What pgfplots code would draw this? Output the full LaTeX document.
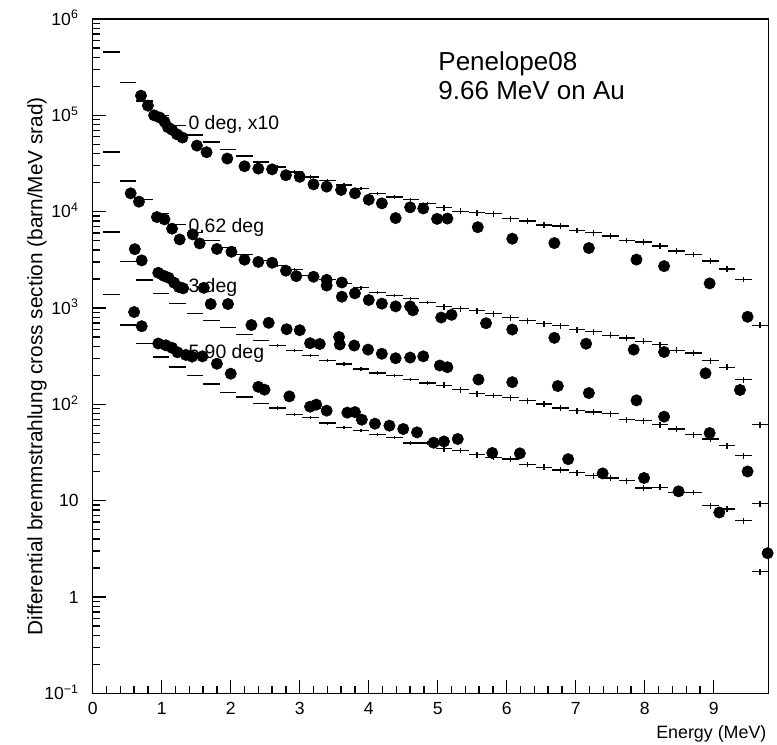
\documentclass[border=0pt]{standalone}
\usepackage{fontspec}
\setmainfont{Liberation Sans}
\usepackage{pgfplots}
\pgfplotsset{compat=1.18}
\usepackage{pgfplotstable}

% Penelope08 histograms (bin centre, value, relative error)
\pgfplotstableread{
x y e
0.27 456000 0
0.51 219000 0
0.75 141000 0
0.99 100000 0
1.23 78900 0
1.48 62500 0
1.72 52800 0
1.96 44400 0
2.20 37800 0
2.44 32800 0
2.68 29100 0.04
2.92 25800 0.04
3.16 22900 0.04
3.40 21100 0.04
3.64 18900 0.04
3.89 17300 0.04
4.13 15400 0.04
4.37 14200 0.04
4.61 13400 0.04
4.85 12100 0.04
5.09 11000 0.07
5.33 10100 0.07
5.57 9770 0.07
5.81 9530 0.07
6.05 8460 0.07
6.30 7980 0.07
6.54 7290 0.07
6.78 7080 0.07
7.02 6390 0.07
7.26 6050 0.07
7.50 5580 0.07
7.74 5030 0.07
7.98 4830 0.07
8.22 4390 0.07
8.46 3900 0.07
8.71 3600 0.07
8.95 3070 0.07
9.19 2550 0.07
9.43 1980 0.07
9.67 662 0.07
}\histA
\pgfplotstableread{
x y e
0.27 41700 0
0.51 20800 0
0.75 13400 0
0.99 9600 0
1.23 7380 0
1.48 6090 0
1.72 5030 0
1.96 4250 0
2.20 3620 0
2.44 3120 0
2.68 2770 0.04
2.92 2510 0.04
3.16 2180 0.04
3.40 1980 0.04
3.64 1790 0.04
3.89 1620 0.04
4.13 1460 0.04
4.37 1350 0.04
4.61 1260 0.04
4.85 1150 0.04
5.09 1030 0.07
5.33 982 0.07
5.57 942 0.07
5.81 871 0.07
6.05 791 0.07
6.30 741 0.07
6.54 690 0.07
6.78 658 0.07
7.02 598 0.07
7.26 566 0.07
7.50 521 0.07
7.74 490 0.07
7.98 452 0.07
8.22 418 0.07
8.46 364 0.07
8.71 342 0.07
8.95 285 0.07
9.19 243 0.07
9.43 181 0.07
9.67 61.5 0.07
}\histB
\pgfplotstableread{
x y e
0.27 6140 0
0.51 3020 0
0.75 1950 0
0.99 1420 0
1.23 1110 0
1.48 877 0
1.72 747 0
1.96 623 0
2.20 531 0
2.44 463 0
2.68 408 0.04
2.92 364 0.04
3.16 321 0.04
3.40 287 0.04
3.64 263 0.04
3.89 233 0.04
4.13 212 0.04
4.37 199 0.04
4.61 181 0.04
4.85 167 0.04
5.09 158 0.07
5.33 142 0.07
5.57 129 0.07
5.81 124 0.07
6.05 117 0.07
6.30 109 0.07
6.54 101 0.07
6.78 91.8 0.07
7.02 86 0.07
7.26 83.4 0.07
7.50 80 0.07
7.74 69.3 0.07
7.98 67.7 0.07
8.22 61.5 0.07
8.46 55.5 0.07
8.71 48.4 0.07
8.95 43.7 0.07
9.19 37.2 0.07
9.43 29.3 0.07
9.67 9.29 0.07
}\histC
\pgfplotstableread{
x y e
0.27 1390 0
0.51 666 0
0.75 431 0
0.99 310 0
1.23 244 0
1.48 200 0
1.72 163 0
1.96 133 0
2.20 119 0
2.44 102 0
2.68 91.8 0.04
2.92 78.2 0.04
3.16 72.7 0.04
3.40 63.8 0.04
3.64 57.3 0.04
3.89 53.5 0.04
4.13 48.4 0.04
4.37 45.4 0.04
4.61 39.7 0.04
4.85 39.7 0.04
5.09 34.8 0.07
5.33 33.3 0.07
5.57 30 0.07
5.81 28.3 0.07
6.05 27.1 0.07
6.30 23.8 0.07
6.54 22.2 0.07
6.78 20.9 0.07
7.02 19.5 0.07
7.26 18.2 0.07
7.50 17.2 0.07
7.74 16.1 0.07
7.98 13.5 0.07
8.22 13.8 0.07
8.46 12.2 0.07
8.71 12.2 0.07
8.95 8.91 0.07
9.19 8.18 0.07
9.43 6.22 0.07
9.67 1.84 0.07
}\histD

% Measured points
\pgfplotstableread{
x y
0.70 160000
0.80 126000
0.89 100000
0.97 94900
1.04 85900
1.09 75200
1.15 70800
1.22 63600
1.30 58800
1.51 48500
1.65 41400
1.95 35600
2.20 29600
2.40 28000
2.60 27500
2.80 23900
3.00 23000
3.20 19200
3.39 18200
3.60 16800
3.80 15500
4.00 13300
4.19 12200
4.39 8580
4.60 11100
4.79 10800
4.99 8420
5.14 8480
5.58 6900
6.08 5240
6.69 4720
7.19 4190
7.88 3180
8.28 2720
8.94 1800
9.49 811
}\dataA
\pgfplotstableread{
x y
0.55 15500
0.67 12700
0.93 8790
1.04 8320
1.15 6660
1.26 5150
1.45 5810
1.55 4680
1.80 4100
2.01 3840
2.20 3170
2.40 3010
2.60 2950
2.80 2440
2.95 2140
3.20 2110
3.39 1960
3.39 1710
3.61 1840
3.61 1310
3.80 1420
4.00 1210
4.19 1110
4.39 1040
4.60 1040
4.64 946
5.05 797
5.20 850
5.70 695
6.08 598
6.69 490
7.15 426
7.84 370
8.28 349
8.88 210
9.38 141
}\dataB
\pgfplotstableread{
x y
0.61 4080
0.71 3120
0.95 2320
1.03 2160
1.10 2060
1.18 1830
1.25 1650
1.31 1600
1.61 1620
1.71 1100
1.96 1100
2.30 666
2.55 702
2.81 602
3.00 588
3.15 431
3.29 423
3.57 500
3.58 418
3.79 408
3.99 370
4.19 335
4.39 301
4.60 306
4.79 315
5.03 253
5.14 243
5.59 181
6.08 170
6.74 155
7.19 131
7.88 110
8.28 74.5
8.94 50.4
9.49 20.1
}\dataC
\pgfplotstableread{
x y
0.60 908
0.71 647
0.95 428
1.06 410
1.15 386
1.23 347
1.35 326
1.44 313
1.59 315
1.80 264
2.00 208
2.40 152
2.49 142
2.85 121
3.15 94.6
3.24 99.3
3.39 86
3.69 82
3.80 83
3.90 69.3
4.09 63
4.30 60.1
4.50 55.5
4.70 51.2
4.94 40
5.09 41.2
5.29 43.7
5.79 31.3
6.19 31
6.89 27
7.39 19.2
7.99 17.2
8.49 12.5
9.08 7.54
9.78 2.85
}\dataD

\pgfplotsset{
  histo/.style={draw=none, mark=none,
    error bars/.cd, x dir=both, x fixed=0.1205, y dir=both, y explicit relative,
    error mark=none, error bar style={draw=black, line width=0.33mm, line cap=butt}},
  dots/.style={only marks, mark=*, mark size=1.42mm, black, mark options={fill=black, draw=black}},
}

\begin{document}
\begin{tikzpicture}
\begin{axis}[
  scale only axis, width=168.9mm, height=168.6mm,
  font=\fontsize{12.5}{14}\selectfont,
  xmin=0, xmax=9.79, ymode=log, ymin=0.1, ymax=1e6,
  clip=false,
  axis line style={line width=0.38mm, black},
  tick style={line width=0.33mm, black},
  tick align=inside, tick pos=left,
  major tick length=3.4mm, minor tick length=1.9mm,
  xtick={0,1,2,3,4,5,6,7,8,9},
  xticklabels={0,1,2,3,4,5,6,7,8,9},
  minor x tick num=4,
  ytick={0.1,1,10,100,1000,10000,100000,1000000},
  yticklabels={10\smash{\textsuperscript{−1}},1,10,10\smash{\textsuperscript{2}},10\smash{\textsuperscript{3}},10\smash{\textsuperscript{4}},10\smash{\textsuperscript{5}},10\smash{\textsuperscript{6}}},
  yticklabel style={anchor=east, xshift=-2.3mm},
  xticklabel style={anchor=north, yshift=-0.9mm},
  extra y ticks={0.2,0.3,0.4,0.5,0.6,0.7,0.8,0.9,
    2,3,4,5,6,7,8,9,
    20,30,40,50,60,70,80,90,
    200,300,400,500,600,700,800,900,
    2000,3000,4000,5000,6000,7000,8000,9000,
    20000,30000,40000,50000,60000,70000,80000,90000,
    200000,300000,400000,500000,600000,700000,800000,900000},
  extra y tick labels={},
  extra y tick style={major tick length=1.9mm, tick style={line width=0.33mm, black}},
]
\addplot[histo] table[x=x, y=y, y error=e] {\histA};
\addplot[histo] table[x=x, y=y, y error=e] {\histB};
\addplot[histo] table[x=x, y=y, y error=e] {\histC};
\addplot[histo] table[x=x, y=y, y error=e] {\histD};
\addplot[dots] table[x=x, y=y] {\dataA};
\addplot[dots] table[x=x, y=y] {\dataB};
\addplot[dots] table[x=x, y=y] {\dataC};
\addplot[dots] table[x=x, y=y] {\dataD};

\node[anchor=west, inner sep=0, font=\fontsize{13.8}{15}\selectfont] at (axis cs:1.385,79800) {0 deg, x10};
\node[anchor=west, inner sep=0, font=\fontsize{13.8}{15}\selectfont] at (axis cs:1.385,6870) {0.62 deg};
\node[anchor=west, inner sep=0, font=\fontsize{13.8}{15}\selectfont] at (axis cs:1.385,1633) {3 deg};
\node[anchor=west, inner sep=0, font=\fontsize{13.8}{15}\selectfont] at (axis cs:1.385,336) {5.90 deg};

\node[anchor=base west, inner sep=0, font=\fontsize{18.5}{20}\selectfont] at (axis cs:5.006,2.95e5) {Penelope08};
\node[anchor=base west, inner sep=0, font=\fontsize{18.5}{20}\selectfont] at (axis cs:5.006,1.45e5) {9.66 MeV on Au};

\node[anchor=base east, inner sep=0, xshift=-0.4mm, yshift=-11.2mm, font=\fontsize{12.7}{14}\selectfont] at (rel axis cs:1,0) {Energy (MeV)};
\node[rotate=90, anchor=center, inner sep=0, font=\fontsize{14.8}{16}\selectfont] at (rel axis cs:-0.0824,0.485) {Differential bremmstrahlung cross section (barn/MeV srad)};

\coordinate (SW) at (rel axis cs:0,0);
\coordinate (NE) at (rel axis cs:1,1);
\end{axis}
\pgfresetboundingbox
\path ([xshift=-23.18mm,yshift=-12.68mm]SW) rectangle ([xshift=2.18mm,yshift=4.75mm]NE);
\end{tikzpicture}
\end{document}
